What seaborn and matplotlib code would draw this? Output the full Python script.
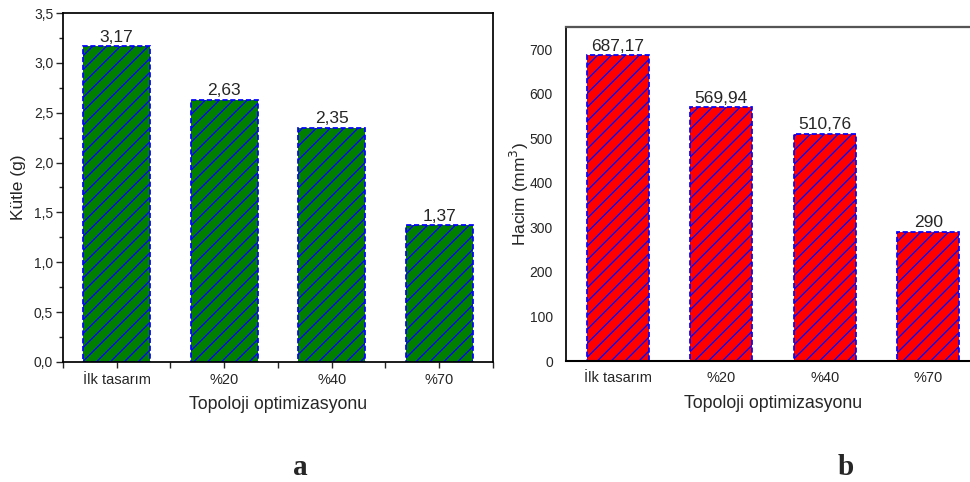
import matplotlib
matplotlib.use("Agg")
import matplotlib.pyplot as plt
import matplotlib.ticker as mticker
import seaborn as sns

# Veri
kategoriler = ["İlk tasarım", "%20", "%40", "%70"]
kutle = [3.17, 2.63, 2.35, 1.37]
hacim = [687.17, 569.94, 510.76, 290]

sns.set_style("ticks")
plt.rcParams["font.family"] = ["Liberation Sans", "DejaVu Sans"]
plt.rcParams["hatch.linewidth"] = 0.75

DPI = 125


def virgul(v, pos=None):
    return f"{v:g}".replace(".", ",")


fig = plt.figure(figsize=(970 / DPI, 482 / DPI), dpi=DPI)
ax1 = fig.add_axes([0.0649, 0.249, 0.4433, 0.724])
ax2 = fig.add_axes([0.5835, 0.251, 0.4268, 0.693])

# a) Kütle
sns.barplot(x=kategoriler, y=kutle, color="#007f00", saturation=1, width=0.62,
            edgecolor="blue", linewidth=1.0, linestyle=(0, (3, 1.5)),
            hatch="///", ax=ax1)
ax1.bar_label(ax1.containers[0], labels=[virgul(v) for v in kutle],
              fontsize=10, padding=0.8)
ax1.set_xlim(-0.5, 3.5)
ax1.set_ylim(0, 3.5)
ax1.yaxis.set_major_locator(mticker.MultipleLocator(0.5))
ax1.yaxis.set_minor_locator(mticker.MultipleLocator(0.25))
ax1.yaxis.set_major_formatter(mticker.FuncFormatter(lambda v, p: f"{v:.1f}".replace(".", ",")))
ax1.xaxis.set_minor_locator(mticker.FixedLocator([-0.5, 0.5, 1.5, 2.5, 3.5]))
ax1.tick_params(axis="y", which="major", direction="out", length=4, width=0.8, labelsize=8, pad=1.6)
ax1.tick_params(axis="y", which="minor", direction="out", length=2.4, width=0.8)
ax1.tick_params(axis="x", which="both", direction="out", length=3.2, width=0.8, labelsize=8.4, pad=3.2)
ax1.set_xlabel("Topoloji optimizasyonu", fontsize=10.2)
ax1.set_ylabel("Kütle (g)", fontsize=10)
ax1.xaxis.set_label_coords(0.5, -0.097)
ax1.yaxis.set_label_coords(-0.086, 0.5)
for s in ax1.spines.values():
    s.set_color("black")
    s.set_linewidth(1.0)

# b) Hacim
sns.barplot(x=kategoriler, y=hacim, color="#ff0000", saturation=1, width=0.6,
            edgecolor="blue", linewidth=1.0, linestyle=(0, (3, 1.5)),
            hatch="///", ax=ax2)
ax2.bar_label(ax2.containers[0], labels=[virgul(v) for v in hacim],
              fontsize=10, padding=0.8)
ax2.set_xlim(-0.5, 3.5)
ax2.set_ylim(0, 750)
ax2.yaxis.set_major_locator(mticker.MultipleLocator(100))
ax2.tick_params(axis="both", length=0, labelsize=8)
ax2.tick_params(axis="y", pad=7.5)
ax2.tick_params(axis="x", pad=6, labelsize=8.4)
ax2.set_xlabel("Topoloji optimizasyonu", fontsize=10.2)
ax2.set_ylabel("Hacim (mm$^3$)", fontsize=10)
ax2.xaxis.set_label_coords(0.5, -0.102)
ax2.yaxis.set_label_coords(-0.084, 0.5)
ax2.spines["left"].set_color("black")
ax2.spines["bottom"].set_color("black")
ax2.spines["left"].set_linewidth(1.0)
ax2.spines["bottom"].set_linewidth(1.2)
ax2.spines["top"].set_color("#555555")
ax2.spines["top"].set_linewidth(1.3)
ax2.spines["right"].set_visible(False)

# Panel harfleri
fig.text(300 / 970, 1 - 475 / 482, "a", fontsize=16.8, fontweight="bold",
         family="Liberation Serif", ha="center", va="baseline")
fig.text(846 / 970, 1 - 475 / 482, "b", fontsize=16.8, fontweight="bold",
         family="Liberation Serif", ha="center", va="baseline")

fig.savefig("out.png", dpi=DPI)
